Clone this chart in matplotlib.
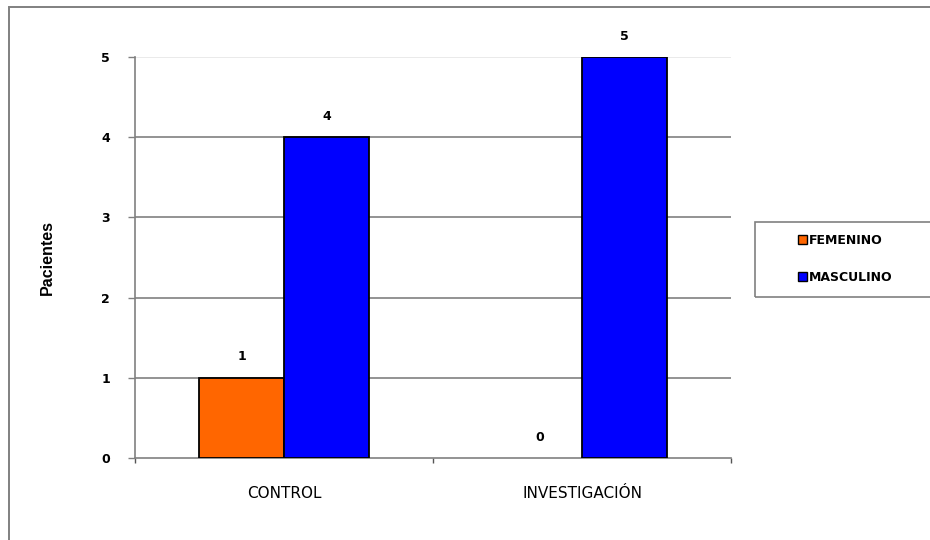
import matplotlib
matplotlib.use("Agg")
import matplotlib.pyplot as plt
from matplotlib.patches import Rectangle, Patch
import numpy as np

# Pacientes por grupo y sexo
grupos = ["CONTROL", "INVESTIGACIÓN"]
femenino = [1, 0]
masculino = [4, 5]
series = ["FEMENINO", "MASCULINO"]
colores = ["#FF6600", "#0000FF"]
yticks = [0, 1, 2, 3, 4, 5]

fig = plt.figure(figsize=(9.3, 5.4), dpi=100)
fig.patch.set_facecolor("white")

# marco exterior del grafico
fig.patches.append(Rectangle((9 / 930, -0.05), 1.0, 1 - 7 / 540 + 0.05,
                             transform=fig.transFigure, fill=False,
                             edgecolor="#808080", linewidth=1.4))

ax = fig.add_axes([135 / 930, 82 / 540, 596 / 930, 401 / 540])

x = np.arange(len(grupos))
ancho = 0.285
b1 = ax.bar(x - ancho / 2, femenino, ancho, color=colores[0],
            edgecolor="black", linewidth=1.3, zorder=3)
b2 = ax.bar(x + ancho / 2, masculino, ancho, color=colores[1],
            edgecolor="black", linewidth=1.3, zorder=3)

for barras in (b1, b2):
    for rect in barras:
        h = rect.get_height()
        if h == 0:
            rect.set_linewidth(0)
        ax.annotate(f"{h:g}", (rect.get_x() + rect.get_width() / 2, h),
                    xytext=(0, 15), textcoords="offset points",
                    ha="center", va="center", fontsize=9, fontweight="bold")

ax.set_xlim(-0.5, 1.5)
ax.set_ylim(0, 5)

# lineas de division horizontales
for v in yticks[1:]:
    ax.axhline(v, color="#808080" if v < 5 else "#e6e6e6",
               linewidth=1.2, zorder=1)

ax.set_yticks(yticks)
ax.set_yticklabels([str(v) for v in yticks], fontsize=9, fontweight="bold")
ax.tick_params(axis="y", direction="out", length=5, width=1,
               color="#808080", pad=13)

ax.set_xticks(x)
ax.set_xticklabels(grupos, fontsize=11)
ax.tick_params(axis="x", which="major", length=0, pad=20)
ax.set_xticks([-0.5, 0.5, 1.5], minor=True)
ax.tick_params(axis="x", which="minor", direction="out", length=3.5,
               width=1, color="#555555")

for lado in ("top", "right"):
    ax.spines[lado].set_visible(False)
for lado in ("left", "bottom"):
    ax.spines[lado].set_color("#808080")
    ax.spines[lado].set_linewidth(1.2)

ax.set_ylabel("Pacientes", family="Liberation Sans", fontsize=11.5,
              fontweight="bold")
ax.yaxis.set_label_coords(-(135 - 55) / 596, 0.5)

# leyenda
fig.patches.append(Rectangle((755 / 930, 1 - 297 / 540), 0.3, 75 / 540,
                             transform=fig.transFigure, fill=False,
                             edgecolor="#808080", linewidth=1.2))
handles = [Patch(facecolor=c, edgecolor="black", linewidth=1) for c in colores]
fig.legend(handles, series, loc="center left",
           bbox_to_anchor=(787 / 930, 1 - 259 / 540), frameon=False,
           prop={"size": 9, "weight": "bold"}, handlelength=0.7,
           handleheight=0.7, handletextpad=0.15, labelspacing=1.95)

fig.savefig("out.png", dpi=100)
